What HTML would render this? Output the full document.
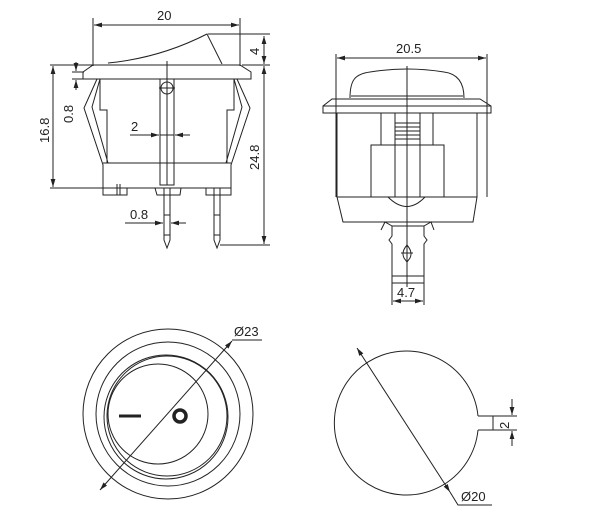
<!DOCTYPE html>
<html><head><style>html,body{margin:0;padding:0;background:#fff}svg{display:block}text{font-family:"Liberation Sans",sans-serif;font-size:13px;fill:#222}</style></head><body>
<svg width="600" height="521" viewBox="0 0 600 521" xmlns="http://www.w3.org/2000/svg">
<defs><marker id="a" viewBox="0 0 10 6" refX="10" refY="3" markerWidth="8" markerHeight="5" orient="auto-start-reverse"><path d="M0,0L10,3L0,6z" fill="#222"/></marker></defs>
<g fill="none" stroke="#222" stroke-width="1">
<!-- LEFT SIDE VIEW -->
<line x1="93" y1="18" x2="93" y2="66"/><line x1="240" y1="18" x2="240" y2="66"/>
<line x1="94" y1="25" x2="239" y2="25" marker-start="url(#a)" marker-end="url(#a)"/>
<path d="M108,63 Q160,58 207,34 L222,64"/>
<line x1="208" y1="34" x2="270" y2="34"/><line x1="242" y1="65" x2="270" y2="65"/>
<line x1="264" y1="36" x2="264" y2="64" marker-start="url(#a)" marker-end="url(#a)"/>
<line x1="264" y1="66" x2="264" y2="244" marker-start="url(#a)" marker-end="url(#a)"/>
<line x1="220" y1="245" x2="270" y2="245"/>
<path d="M93,65 L240,65 L251,72 L251,79 L83,79 L83,72 Z"/>
<line x1="50" y1="65" x2="93" y2="65"/><line x1="50" y1="188" x2="103" y2="188"/>
<line x1="53" y1="66" x2="53" y2="187" marker-start="url(#a)" marker-end="url(#a)"/>
<line x1="72" y1="72" x2="84" y2="72"/><line x1="72" y1="79" x2="84" y2="79"/>
<line x1="76" y1="62" x2="76" y2="71" marker-end="url(#a)"/><line x1="76" y1="90" x2="76" y2="80" marker-end="url(#a)"/>
<path d="M97,79 L84,108 L103,165 L103,188"/><path d="M100,79 L92,107 L108,163"/>
<path d="M237,79 L250,108 L231,165 L231,188"/><path d="M234,79 L242,107 L226,163"/>
<path d="M100,79 L100,110 L107,110 L107,163"/><path d="M234,79 L234,110 L227,110 L227,163"/>
<line x1="103" y1="163" x2="231" y2="163"/>
<line x1="103" y1="188" x2="231" y2="188"/>
<path d="M103,188 L103,195 L127,195 L127,188"/><line x1="117" y1="184" x2="117" y2="195"/><line x1="120" y1="184" x2="120" y2="195"/>
<path d="M155,188 L157,195 L180,195 L181,188"/>
<path d="M206,188 L206,195 L231,195 L231,188"/>
<rect x="160" y="79" width="14" height="106"/>
<circle cx="167" cy="88" r="6"/><line x1="159" y1="88" x2="175" y2="88"/>
<line x1="167" y1="61" x2="167" y2="185"/>
<path d="M164,188 L164,240 L167,248 L170,240 L170,188"/><line x1="164" y1="215" x2="170" y2="215"/><line x1="164" y1="235" x2="170" y2="235"/>
<path d="M214,188 L214,240 L217,248 L220,240 L220,188"/><line x1="214" y1="215" x2="220" y2="215"/><line x1="214" y1="235" x2="220" y2="235"/>
<line x1="130" y1="135" x2="159" y2="135" marker-end="url(#a)"/><line x1="190" y1="135" x2="175" y2="135" marker-end="url(#a)"/><line x1="160" y1="135" x2="174" y2="135"/>
<line x1="125" y1="223" x2="163" y2="223" marker-end="url(#a)"/><line x1="186" y1="223" x2="171" y2="223" marker-end="url(#a)"/>
<!-- RIGHT SIDE VIEW -->
<line x1="336" y1="54" x2="336" y2="197"/><line x1="487" y1="54" x2="487" y2="197"/>
<line x1="337" y1="58" x2="486" y2="58" marker-start="url(#a)" marker-end="url(#a)"/>
<path d="M350,98 C350,80 355,74 370,72 Q407,66 444,72 C460,74 464,86 464,98"/>
<line x1="351" y1="96" x2="463" y2="96"/>
<path d="M332,99 L480,99 L491,106 L491,113 L323,113 L323,106 Z"/><line x1="323" y1="106" x2="491" y2="106"/>
<path d="M337,113 L337,197 L477,197 L477,113"/>
<path d="M381,113 L381,145 M395,113 L395,197 M420,113 L420,197 M433,113 L433,145"/>
<path d="M395,123 H420 M395,127 H420 M395,131 H420 M395,135 H420 M395,139 H420"/>
<rect x="371" y="145" width="24" height="52"/><rect x="420" y="145" width="24" height="52"/>
<line x1="395" y1="145" x2="420" y2="145"/>
<path d="M337,197 L343,222 L473,222 L477,197"/>
<path d="M388,197 Q407,216 425,197"/>
<path d="M381,230 L385,222 L392,226 L392,236 L389,240 L392,244 L392,283 L424,283 L424,244 L427,240 L424,236 L424,226 L431,222 L434,230"/>
<line x1="392" y1="226" x2="424" y2="226"/>
<path d="M407,245 Q401,252 404,258 L407,262 L410,258 Q413,252 407,245 Z"/><line x1="401" y1="253" x2="413" y2="253"/>
<line x1="392" y1="276" x2="424" y2="276"/>
<line x1="407" y1="66" x2="407" y2="287"/>
<line x1="392" y1="283" x2="392" y2="305"/><line x1="424" y1="283" x2="424" y2="305"/>
<line x1="393" y1="301" x2="423" y2="301" marker-start="url(#a)" marker-end="url(#a)"/>
<!-- FRONT VIEW -->
<circle cx="168" cy="414" r="85"/><circle cx="168" cy="414" r="72"/>
<circle cx="166" cy="417" r="62"/><circle cx="167" cy="416" r="60"/>
<circle cx="158" cy="414" r="50"/>
<circle cx="180" cy="416" r="6" stroke-width="3.5"/>
<line x1="119" y1="416" x2="141" y2="416" stroke-width="3"/>
<line x1="100" y1="490" x2="232" y2="341" marker-start="url(#a)" marker-end="url(#a)"/>
<line x1="232" y1="340" x2="262" y2="340"/>
<!-- CUTOUT -->
<path d="M478,416 A72,72 0 1 0 478,430"/>
<path d="M478,416 L493,416 L493,430 L478,430"/>
<line x1="493" y1="416" x2="517" y2="416"/><line x1="493" y1="430" x2="517" y2="430"/>
<line x1="512" y1="399" x2="512" y2="415" marker-end="url(#a)"/><line x1="512" y1="446" x2="512" y2="431" marker-end="url(#a)"/>
<line x1="357" y1="348" x2="450" y2="492" marker-start="url(#a)" marker-end="url(#a)"/>
<path d="M450,492 L458,505 L492,505"/>
</g>
<text x="157" y="20">20</text>
<text transform="translate(259,55) rotate(-90)">4</text>
<text transform="translate(259,170) rotate(-90)">24.8</text>
<text transform="translate(49,143) rotate(-90)">16.8</text>
<text transform="translate(73,123) rotate(-90)">0.8</text>
<text x="131" y="131">2</text>
<text x="130" y="219">0.8</text>
<text x="396" y="53">20.5</text>
<text x="397" y="297">4.7</text>
<text x="234" y="336">Ø23</text>
<text transform="translate(509,429) rotate(-90)">2</text>
<text x="461" y="501">Ø20</text>
</svg>
</body></html>
